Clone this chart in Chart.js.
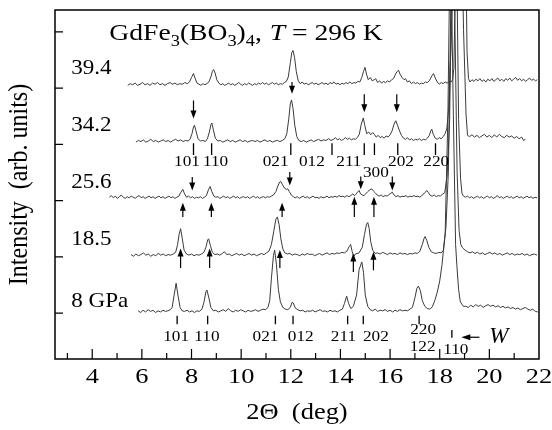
<!DOCTYPE html>
<html>
<head>
<meta charset="utf-8">
<script src="https://cdn.jsdelivr.net/npm/chart.js@4"></script>
<style>
html, body { margin: 0; padding: 0; background: #fff; }
#wrap { width: 552px; height: 430px; }
.preload { position: absolute; left: -9999px; font-family: "Liberation Serif"; }
</style>
</head>
<body>
<span class="preload">GdFe 296 K <i>T W</i></span>
<div id="wrap"><canvas id="grafico"></canvas></div>
<script>
// pressure labels, bottom to top, and vertical offset of each pattern
const pressures = ["8 GPa", "18.5", "25.6", "34.2", "39.4"];
const offsets = [0.02, 1.02, 2.04, 3.04, 4.05];

// [2Theta, intensity]
const p8 = [[5.85,0.02],[5.95,-0.01],[6.05,0.03],[6.15,0.0],[6.25,0.04],[6.35,0.01],[6.45,0.03],[6.55,-0.01],[6.65,0.02],[6.75,0.0],[6.85,0.03],[6.95,0.01],[7.05,0.02],[7.15,0.04],
  [7.22,0.08],[7.3,0.3],[7.38,0.51],[7.46,0.28],[7.54,0.08],[7.62,0.02],
  [7.72,0.01],[7.82,0.03],[7.92,0.0],[8.02,0.02],[8.12,-0.01],[8.22,0.02],[8.32,0.01],[8.42,0.05],
  [8.5,0.17],[8.58,0.36],[8.62,0.39],[8.7,0.25],[8.78,0.08],[8.88,0.02],
  [8.98,0.03],[9.08,0.0],[9.18,0.02],[9.28,0.04],[9.38,0.01],[9.48,0.06],[9.58,0.02],[9.68,0.0],[9.78,0.03],[9.88,0.01],[9.98,0.04],[10.08,0.02],[10.18,0.0],[10.28,0.03],[10.38,0.01],[10.48,0.02],[10.58,0.04],[10.68,0.01],[10.78,0.03],[10.88,0.05],[10.98,0.04],[11.08,0.08],
  [11.15,0.2],[11.22,0.6],[11.3,1.0],[11.35,1.1],[11.42,0.85],[11.5,0.4],[11.58,0.18],[11.68,0.08],[11.78,0.05],[11.88,0.04],
  [11.98,0.08],[12.05,0.17],[12.1,0.16],[12.18,0.07],[12.28,0.04],
  [12.38,0.02],[12.48,0.03],[12.58,0.0],[12.68,0.02],[12.78,0.01],[12.88,0.03],[12.98,0.0],[13.08,0.02],[13.18,0.04],[13.28,0.01],[13.38,0.02],[13.48,0.0],[13.58,0.03],[13.68,0.01],[13.78,0.02],[13.88,0.0],[13.98,0.03],[14.08,0.05],
  [14.16,0.15],[14.25,0.28],[14.33,0.15],[14.42,0.06],[14.52,0.1],
  [14.65,0.3],[14.75,0.75],[14.86,0.89],[14.93,0.7],[15.0,0.3],[15.1,0.1],[15.2,0.04],
  [15.3,0.02],[15.4,0.05],[15.5,0.01],[15.6,0.03],[15.7,0.02],[15.8,0.04],[15.9,0.01],[16.0,0.03],[16.1,0.0],[16.2,0.03],[16.3,0.01],[16.4,0.04],[16.5,0.02],[16.6,0.03],[16.7,0.02],[16.8,0.05],[16.9,0.08],
  [17.0,0.25],[17.08,0.42],[17.14,0.46],[17.22,0.38],[17.3,0.2],[17.4,0.1],[17.5,0.06],[17.6,0.05],[17.7,0.09],[17.8,0.2],
  [17.9,0.35],[18.0,0.55],[18.09,0.83],[18.22,1.4],[18.33,3.5],[18.43,7],[18.55,3.5],[18.64,1.2],[18.69,0.83],[18.76,0.4],[18.83,0.18],[18.95,0.1],
  [19.05,0.1],[19.15,0.08],[19.25,0.12],[19.35,0.09],[19.45,0.13],[19.55,0.1],[19.65,0.12],[19.75,0.08],[19.85,0.11],[19.95,0.13],[20.05,0.1],[20.15,0.12],[20.25,0.09],[20.35,0.11],[20.45,0.08],[20.55,0.1],[20.65,0.07],[20.75,0.09],[20.85,0.06],[20.95,0.08],[21.05,0.05],[21.15,0.07],[21.25,0.04],[21.35,0.06],[21.45,0.08],[21.55,0.05],[21.65,0.03],[21.75,0.05],[21.85,0.01],[21.95,0.0]];

const p185 = [[5.56,0.02],[5.66,-0.01],[5.76,0.03],[5.86,0.0],[5.96,0.02],[6.06,0.05],[6.16,0.01],[6.26,0.03],[6.36,-0.01],[6.46,0.02],[6.56,0.0],[6.66,0.04],[6.76,0.01],[6.86,0.03],[6.96,0.0],[7.06,0.02],[7.16,0.01],[7.26,0.03],[7.36,0.06],
  [7.44,0.2],[7.5,0.38],[7.56,0.48],[7.63,0.3],[7.7,0.1],[7.8,0.03],
  [7.9,0.01],[8.0,0.03],[8.1,0.0],[8.2,0.02],[8.3,0.01],[8.4,0.03],[8.5,0.06],
  [8.58,0.15],[8.65,0.28],[8.69,0.3],[8.76,0.18],[8.84,0.06],[8.94,0.02],
  [9.04,0.03],[9.14,0.01],[9.24,0.04],[9.33,0.07],[9.42,0.02],[9.52,0.03],[9.62,0.0],[9.72,0.02],[9.82,0.04],[9.92,0.01],[10.02,0.03],[10.12,0.0],[10.22,0.02],[10.32,0.04],[10.42,0.01],[10.52,0.03],[10.62,0.0],[10.72,0.02],[10.82,0.04],[10.92,0.02],[11.02,0.05],[11.12,0.08],
  [11.22,0.2],[11.32,0.45],[11.4,0.65],[11.46,0.69],[11.53,0.55],[11.6,0.3],[11.68,0.12],[11.76,0.05],
  [11.86,0.03],[11.96,0.04],[12.06,0.01],[12.16,0.03],[12.26,0.02],[12.36,0.0],[12.46,0.03],[12.56,0.01],[12.66,0.04],[12.76,0.02],[12.86,0.03],[12.96,0.0],[13.06,0.02],[13.16,0.04],[13.26,0.01],[13.36,0.03],[13.46,0.05],[13.56,0.02],[13.66,0.04],[13.76,0.03],[13.86,0.05],[13.96,0.04],[14.06,0.06],[14.16,0.05],[14.26,0.08],
  [14.35,0.16],[14.41,0.2],[14.47,0.08],[14.53,-0.02],[14.6,0.03],
  [14.75,0.05],[14.88,0.15],[14.97,0.38],[15.05,0.56],[15.1,0.59],[15.16,0.48],[15.22,0.25],[15.3,0.1],[15.4,0.04],
  [15.5,0.05],[15.6,0.03],[15.7,0.06],[15.8,0.04],[15.9,0.02],[16.0,0.05],[16.1,0.03],[16.2,0.04],[16.3,0.02],[16.4,0.05],[16.5,0.03],[16.6,0.04],[16.7,0.02],[16.8,0.04],[16.9,0.03],[17.0,0.05],[17.1,0.04],[17.2,0.08],
  [17.3,0.2],[17.37,0.31],[17.41,0.34],[17.48,0.27],[17.56,0.15],[17.66,0.07],[17.76,0.05],[17.86,0.04],[17.96,0.06],[18.06,0.05],[18.15,0.1],
  [18.25,0.5],[18.35,1.5],[18.45,4.5],[18.52,7],[18.6,4.5],[18.7,1.5],[18.78,0.45],[18.85,0.2],[18.92,0.14],[19.02,0.1],[19.12,0.07],
  [19.22,0.05],[19.32,0.07],[19.42,0.04],[19.52,0.06],[19.62,0.03],[19.72,0.05],[19.82,0.02],[19.92,0.04],[20.02,0.06],[20.12,0.03],[20.22,0.05],[20.32,0.02],[20.42,0.04],[20.52,0.01],[20.62,0.03],[20.72,0.05],[20.82,0.02],[20.92,0.04],[21.02,0.01],[21.12,0.03],[21.22,0.02],[21.32,0.04],[21.42,0.01],[21.52,0.03],[21.62,0.0],[21.72,0.02],[21.82,0.03],[21.92,0.01]];

const p256 = [[4.69,0.02],[4.77,0.05],[4.85,0.01],[4.93,0.04],[5.01,0.0],[5.09,0.03],[5.17,0.06],[5.25,0.02],[5.33,0.0],[5.41,0.03],[5.49,0.01],[5.57,0.04],[5.65,0.02],[5.73,0.0],[5.81,0.03],[5.89,0.05],[5.97,0.01],[6.05,0.03],[6.13,0.0],[6.21,0.02],[6.29,0.04],[6.37,0.01],[6.45,0.03],[6.53,0.0],[6.61,0.02],[6.69,0.04],[6.77,0.01],[6.85,0.03],[6.93,0.0],[7.01,0.02],[7.09,0.04],[7.17,0.01],[7.25,0.03],[7.33,0.0],[7.41,0.02],[7.49,0.04],
  [7.56,0.1],[7.65,0.16],[7.72,0.08],[7.8,0.02],[7.88,0.04],[7.96,0.01],[8.04,0.03],[8.12,0.0],[8.2,0.02],[8.28,0.01],[8.36,0.03],[8.44,0.0],[8.52,0.02],[8.6,0.05],
  [8.68,0.15],[8.75,0.21],[8.82,0.12],[8.9,0.04],[8.98,0.02],[9.06,0.03],[9.14,0.0],[9.22,0.02],[9.3,0.04],[9.38,0.01],[9.46,0.03],[9.54,0.0],[9.62,0.02],[9.7,0.04],[9.78,0.01],[9.86,0.03],[9.94,0.0],[10.02,0.02],[10.1,0.03],[10.18,0.01],[10.26,0.03],[10.34,0.0],[10.42,0.02],[10.5,0.04],[10.58,0.01],[10.66,0.03],[10.74,0.0],[10.82,0.02],[10.9,0.03],[10.98,0.01],[11.06,0.03],[11.14,0.02],[11.22,0.04],[11.3,0.06],
  [11.4,0.12],[11.48,0.22],[11.55,0.29],[11.6,0.3],[11.67,0.24],[11.75,0.18],[11.82,0.16],[11.88,0.17],[11.94,0.12],[12.02,0.06],[12.1,0.03],
  [12.18,0.01],[12.26,0.03],[12.34,0.0],[12.42,0.02],[12.5,0.04],[12.58,0.01],[12.66,0.03],[12.74,0.0],[12.82,0.02],[12.9,0.04],[12.98,0.01],[13.06,0.02],[13.14,0.0],[13.22,0.03],[13.3,0.01],[13.38,0.02],[13.46,0.04],[13.54,0.01],[13.62,0.03],[13.7,0.02],[13.78,0.04],[13.86,0.02],[13.94,0.05],[14.02,0.03],[14.1,0.04],[14.18,0.02],[14.26,0.05],[14.34,0.03],
  [14.42,0.05],[14.5,0.08],[14.56,0.05],[14.62,0.07],[14.69,0.11],[14.75,0.14],[14.81,0.08],[14.88,0.06],[14.95,0.05],[15.02,0.08],[15.1,0.12],[15.18,0.15],[15.26,0.17],[15.33,0.13],[15.4,0.1],[15.48,0.06],[15.56,0.04],[15.64,0.06],[15.72,0.03],[15.8,0.05],[15.88,0.04],[15.96,0.07],[16.03,0.09],[16.09,0.11],[16.16,0.06],[16.24,0.03],[16.32,0.05],[16.4,0.02],[16.48,0.04],[16.56,0.03],[16.64,0.05],[16.72,0.02],[16.8,0.04],[16.88,0.03],[16.96,0.05],[17.04,0.03],[17.12,0.04],[17.2,0.02],[17.28,0.05],[17.36,0.08],
  [17.42,0.11],[17.48,0.14],[17.55,0.1],[17.62,0.05],[17.7,0.04],[17.78,0.06],[17.86,0.03],[17.94,0.05],[18.02,0.04],[18.1,0.07],[18.2,0.1],
  [18.3,0.4],[18.4,1.4],[18.5,4.5],[18.6,7],[18.68,4.5],[18.76,1.4],[18.84,0.35],[18.9,0.08],[18.96,0.04],
  [19.04,0.02],[19.12,0.04],[19.2,0.01],[19.28,0.03],[19.36,0.0],[19.44,0.02],[19.52,0.04],[19.6,0.01],[19.68,0.03],[19.76,0.0],[19.84,0.02],[19.92,0.04],[20.0,0.01],[20.08,0.03],[20.16,0.0],[20.24,0.02],[20.32,0.05],[20.4,0.01],[20.48,0.03],[20.56,0.0],[20.64,0.02],[20.72,0.04],[20.8,0.01],[20.88,0.03],[20.96,0.0],[21.04,0.02],[21.12,0.04],[21.2,0.01],[21.28,0.03],[21.36,0.0],[21.44,0.02],[21.52,0.04],[21.6,0.01],[21.68,0.03],[21.76,0.0],[21.84,0.02],[21.92,0.01]];

const p342 = [[5.76,0.0],[5.86,0.03],[5.96,0.01],[6.06,0.04],[6.16,0.0],[6.26,0.02],[6.36,0.05],[6.46,0.01],[6.56,0.03],[6.66,0.0],[6.76,0.02],[6.86,0.04],[6.96,0.01],[7.06,0.03],[7.16,0.0],[7.26,0.03],[7.36,0.05],[7.46,0.02],[7.56,0.04],[7.66,0.01],[7.76,0.03],[7.86,0.02],[7.94,0.05],
  [8.02,0.15],[8.08,0.27],[8.12,0.3],[8.18,0.2],[8.26,0.06],[8.36,0.02],[8.46,0.03],[8.56,0.01],[8.64,0.06],
  [8.72,0.18],[8.78,0.31],[8.82,0.34],[8.88,0.22],[8.96,0.07],[9.06,0.02],
  [9.16,0.03],[9.26,0.0],[9.36,0.02],[9.46,0.04],[9.56,0.01],[9.66,0.03],[9.76,0.0],[9.86,0.02],[9.96,0.04],[10.06,0.01],[10.16,0.03],[10.26,0.0],[10.36,0.02],[10.46,0.03],[10.56,0.01],[10.66,0.03],[10.76,0.0],[10.86,0.02],[10.96,0.04],[11.06,0.01],[11.16,0.03],[11.26,0.0],[11.36,0.02],[11.46,0.03],[11.56,0.01],[11.66,0.03],[11.76,0.06],
  [11.84,0.15],[11.92,0.42],[11.98,0.68],[12.03,0.75],[12.09,0.6],[12.16,0.3],[12.24,0.1],[12.32,0.03],
  [12.42,0.01],[12.52,0.03],[12.62,0.0],[12.72,0.02],[12.82,0.04],[12.92,0.01],[13.02,0.03],[13.12,0.05],[13.22,0.02],[13.32,0.04],[13.42,0.03],[13.52,0.06],[13.62,0.03],[13.72,0.05],[13.8,0.08],[13.88,0.04],[13.96,0.06],[14.04,0.03],[14.12,0.05],[14.2,0.08],[14.28,0.05],[14.36,0.07],[14.44,0.04],[14.52,0.06],[14.6,0.05],[14.68,0.08],[14.76,0.14],
  [14.84,0.32],[14.92,0.43],[14.98,0.3],[15.06,0.15],[15.14,0.18],[15.22,0.13],[15.3,0.17],[15.36,0.14],[15.44,0.09],[15.52,0.12],[15.6,0.08],[15.68,0.1],[15.76,0.07],[15.84,0.11],[15.92,0.09],[16.0,0.13],[16.08,0.2],
  [16.16,0.32],[16.23,0.38],[16.3,0.3],[16.38,0.2],[16.46,0.12],[16.54,0.07],[16.62,0.05],[16.7,0.08],[16.78,0.04],[16.86,0.06],[16.94,0.03],[17.02,0.05],[17.1,0.04],[17.18,0.06],[17.26,0.03],[17.34,0.05],[17.42,0.04],[17.5,0.07],[17.58,0.12],
  [17.64,0.2],[17.68,0.23],[17.74,0.14],[17.82,0.07],[17.9,0.05],[17.98,0.08],[18.06,0.06],[18.14,0.1],[18.22,0.15],[18.29,0.25],
  [18.36,0.6],[18.48,2],[18.62,5],[18.72,7],[18.82,5],[18.96,2],[19.06,0.5],[19.12,0.12],
  [19.2,0.1],[19.3,0.13],[19.4,0.09],[19.5,0.12],[19.6,0.08],[19.7,0.11],[19.8,0.14],[19.9,0.09],[20.0,0.12],[20.1,0.08],[20.2,0.13],[20.3,0.09],[20.4,0.14],[20.5,0.1],[20.6,0.08],[20.7,0.12],[20.8,0.09],[20.9,0.11],[21.0,0.07],[21.1,0.1],[21.2,0.06],[21.3,0.09],[21.38,0.03],[21.45,0.05]];

const p394 = [[5.43,0.0],[5.53,0.03],[5.63,0.01],[5.73,0.04],[5.83,0.0],[5.93,0.02],[6.03,0.05],[6.13,0.01],[6.23,0.03],[6.33,0.0],[6.43,0.04],[6.53,0.02],[6.63,0.05],[6.73,0.01],[6.83,0.03],[6.93,0.0],[7.03,0.03],[7.13,0.05],[7.23,0.02],[7.33,0.04],[7.43,0.01],[7.53,0.03],[7.63,0.02],[7.73,0.05],[7.83,0.03],[7.92,0.06],
  [8.0,0.14],[8.08,0.21],[8.14,0.13],[8.22,0.04],[8.3,0.02],[8.38,0.0],[8.46,0.03],[8.54,0.01],[8.62,0.03],[8.7,0.06],
  [8.78,0.15],[8.84,0.25],[8.89,0.28],[8.95,0.22],[9.02,0.1],[9.1,0.04],[9.18,0.01],[9.26,0.03],[9.34,0.0],[9.42,0.02],[9.5,0.04],[9.58,0.01],[9.66,0.03],[9.74,0.0],[9.82,0.02],[9.9,0.05],[9.98,0.02],[10.06,0.0],[10.14,0.03],[10.22,0.01],[10.3,0.04],[10.38,0.02],[10.46,0.0],[10.54,0.03],[10.62,0.01],[10.7,0.04],[10.78,0.02],[10.86,0.05],[10.94,0.02],[11.02,0.04],[11.1,0.01],[11.18,0.03],[11.26,0.05],[11.34,0.02],[11.42,0.04],[11.5,0.01],[11.58,0.03],[11.66,0.02],[11.74,0.05],[11.82,0.07],
  [11.9,0.15],[11.98,0.4],[12.04,0.58],[12.09,0.62],[12.15,0.5],[12.22,0.25],[12.3,0.08],[12.38,0.03],[12.46,0.06],[12.54,0.02],[12.62,0.04],[12.7,0.01],[12.78,0.03],[12.86,0.05],[12.94,0.02],[13.02,0.04],[13.1,0.01],[13.18,0.03],[13.26,0.05],[13.34,0.02],[13.42,0.04],[13.5,0.01],[13.58,0.05],[13.66,0.03],[13.74,0.06],[13.82,0.02],[13.9,0.04],[13.98,0.01],[14.06,0.04],[14.14,0.02],[14.22,0.05],[14.3,0.03],[14.38,0.06],[14.46,0.03],[14.54,0.05],[14.62,0.04],[14.7,0.07],[14.78,0.06],[14.86,0.14],
  [14.93,0.25],[14.99,0.32],[15.05,0.2],[15.12,0.1],[15.2,0.14],[15.28,0.08],[15.36,0.1],[15.42,0.12],[15.5,0.05],[15.58,0.08],[15.66,0.04],[15.74,0.07],[15.82,0.05],[15.9,0.08],[15.98,0.06],[16.06,0.1],[16.14,0.12],[16.22,0.2],
  [16.28,0.24],[16.34,0.27],[16.4,0.2],[16.48,0.14],[16.56,0.1],[16.62,0.12],[16.7,0.06],[16.78,0.08],[16.86,0.03],[16.94,0.06],[17.02,0.03],[17.1,0.05],[17.18,0.02],[17.26,0.04],[17.34,0.03],[17.42,0.06],[17.5,0.05],[17.58,0.08],[17.64,0.13],
  [17.7,0.18],[17.75,0.21],[17.82,0.13],[17.9,0.06],[17.98,0.02],[18.06,0.05],[18.14,0.03],[18.22,0.06],[18.3,0.04],[18.38,0.07],[18.46,0.06],[18.52,0.1],
  [18.57,0.3],[18.62,1.5],[18.68,4],[18.77,7],[18.9,7],[18.98,5],[19.05,2.5],[19.1,0.6],[19.16,0.12],
  [19.22,0.06],[19.3,0.1],[19.38,0.07],[19.46,0.11],[19.54,0.08],[19.62,0.12],[19.7,0.07],[19.78,0.1],[19.86,0.06],[19.94,0.11],[20.02,0.08],[20.1,0.12],[20.18,0.07],[20.26,0.1],[20.34,0.13],[20.42,0.08],[20.5,0.11],[20.58,0.07],[20.66,0.12],[20.74,0.09],[20.82,0.13],[20.9,0.08],[20.98,0.11],[21.06,0.14],[21.14,0.09],[21.22,0.12],[21.3,0.08],[21.38,0.11],[21.46,0.07],[21.54,0.1],[21.62,0.13],[21.7,0.09],[21.78,0.11],[21.86,0.08],[21.93,0.1]];

const series = [p8, p185, p256, p342, p394];

// x tick labels
const xLabels = [4, 6, 8, 10, 12, 14, 16, 18, 20, 22];

// reflection marks and labels (2Theta, vertical position in axis units)
const hklMid = ["101", "110", "021", "012", "211", "300", "202", "220"];
const hklMidX = [7.82, 8.97, 11.39, 12.85, 14.34, 15.43, 16.44, 17.86];
const hklMidY = [2.68, 2.68, 2.68, 2.68, 2.68, 2.49, 2.68, 2.68];
const markMid = [8.08, 8.81, 12.0, 13.66, 14.96, 15.37, 16.31, 17.83];

const hklLow = ["101", "110", "021", "012", "211", "202", "220", "122", "110"];
const hklLowX = [7.38, 8.62, 10.98, 12.4, 14.12, 15.43, 17.33, 17.31, 18.65];
const hklLowY = [-0.43, -0.43, -0.43, -0.43, -0.43, -0.43, -0.3, -0.6, -0.66];
const markLow = [7.42, 8.65, 11.38, 12.09, 14.29, 14.92, 17.17];

// arrows: [2Theta, tail, head]
const downArrows = [[8.08,3.78,3.46],[12.05,4.11,3.9],[14.96,3.89,3.57],[16.27,3.89,3.57],
  [8.03,2.42,2.18],[11.96,2.51,2.27],[14.82,2.43,2.2],[16.09,2.43,2.18]];
const upArrows = [[7.65,1.71,1.96],[8.8,1.71,1.96],[11.65,1.71,1.96],[14.56,1.71,2.07],[15.35,1.71,2.07],
  [7.56,0.8,1.15],[8.73,0.8,1.15],[11.56,0.8,1.12],[14.52,0.73,1.06],[15.33,0.76,1.09]];

const labelY = [0.2, 1.3, 2.33, 3.34, 4.35];

const SERIF = "'Liberation Serif', 'Times New Roman', Times, serif";

function texto(ctx, s, x, y, size, opt) {
    opt = opt || {};
    ctx.save();
    ctx.font = (opt.italic ? "italic " : "") + size + "px " + SERIF;
    ctx.textAlign = opt.align || "center";
    ctx.textBaseline = opt.base || "middle";
    ctx.fillStyle = "#000";
    ctx.translate(x, y);
    if (opt.rot) ctx.rotate(opt.rot);
    ctx.scale(opt.sx || 1, opt.sy || 1);
    ctx.fillText(s, 0, 0);
    const w = ctx.measureText(s).width * (opt.sx || 1);
    ctx.restore();
    return w;
}

function seta(ctx, x, y0, y1) {
    const dir = y1 > y0 ? 1 : -1;
    ctx.beginPath();
    ctx.moveTo(x, y0);
    ctx.lineTo(x, y1 - dir * 6);
    ctx.stroke();
    ctx.beginPath();
    ctx.moveTo(x, y1);
    ctx.lineTo(x - 3, y1 - dir * 8);
    ctx.lineTo(x + 3, y1 - dir * 8);
    ctx.closePath();
    ctx.fill();
}

const decoracao = {
    id: "decoracao",
    afterDraw(chart) {
        const ctx = chart.ctx;
        const xs = chart.scales.x;
        const ys = chart.scales.y;
        const a = chart.chartArea;
        const X = v => xs.getPixelForValue(v);
        const Y = v => ys.getPixelForValue(v);

        ctx.save();
        ctx.strokeStyle = "#000";
        ctx.fillStyle = "#000";

        // frame
        ctx.lineWidth = 1.5;
        ctx.strokeRect(a.left, a.top, a.right - a.left, a.bottom - a.top);

        // inward ticks
        ctx.lineWidth = 1.2;
        ctx.beginPath();
        for (let v = Math.ceil(xs.min); v < xs.max; v++) {
            const len = v % 2 === 0 ? 10 : 6;
            ctx.moveTo(X(v), a.bottom);
            ctx.lineTo(X(v), a.bottom - len);
        }
        for (let v = Math.ceil(ys.min); v <= Math.floor(ys.max); v++) {
            ctx.moveTo(a.left, Y(v));
            ctx.lineTo(a.left + 8, Y(v));
        }
        ctx.stroke();

        // tick labels and axis titles
        xLabels.forEach(v => texto(ctx, String(v), X(v), a.bottom + 18, 22, { sx: 1.2 }));
        texto(ctx, "2\u0398  (deg)", (a.left + a.right) / 2, 413, 23, { sx: 1.15 });
        texto(ctx, "Intensity  (arb. units)", 20, (a.top + a.bottom) / 2, 24, { rot: -Math.PI / 2, sy: 1.12 });

        // pressure labels
        pressures.forEach((p, i) => texto(ctx, p, X(3.15), Y(labelY[i]), 21, { align: "left", sx: 1.1 }));

        // title
        let tx = X(4.69);
        const ty = Y(4.85);
        const parts = [["GdFe", 0], ["3", 1], ["(BO", 0], ["3", 1], [")", 0], ["4", 1], [",", 0]];
        parts.forEach(([s, sub]) => {
            tx += texto(ctx, s, tx, sub ? ty + 6 : ty, sub ? 16 : 24, { align: "left", base: "alphabetic", sx: 1.15 });
        });
        tx = X(11.15);
        tx += texto(ctx, "T", tx, ty, 24, { align: "left", base: "alphabetic", italic: true, sx: 1.15 });
        texto(ctx, " = 296 K", tx, ty, 24, { align: "left", base: "alphabetic", sx: 1.15 });

        // reflection marks
        ctx.lineWidth = 1.3;
        ctx.beginPath();
        markMid.forEach(v => { ctx.moveTo(X(v), Y(3.02)); ctx.lineTo(X(v), Y(2.81)); });
        markLow.forEach(v => { ctx.moveTo(X(v), Y(-0.05)); ctx.lineTo(X(v), Y(-0.2)); });
        ctx.moveTo(X(18.49), Y(-0.3)); ctx.lineTo(X(18.49), Y(-0.44));
        ctx.stroke();
        hklMid.forEach((s, i) => texto(ctx, s, X(hklMidX[i]), Y(hklMidY[i]), 15, { sx: 1.15 }));
        hklLow.forEach((s, i) => texto(ctx, s, X(hklLowX[i]), Y(hklLowY[i]), 15, { sx: 1.15 }));

        // arrows
        ctx.lineWidth = 1.2;
        downArrows.concat(upArrows).forEach(([x, t, h]) => seta(ctx, X(x), Y(t), Y(h)));

        // W marker
        const wy = Y(-0.43);
        ctx.beginPath();
        ctx.moveTo(X(19.6), wy);
        ctx.lineTo(X(18.87) + 6, wy);
        ctx.stroke();
        ctx.beginPath();
        ctx.moveTo(X(18.87), wy);
        ctx.lineTo(X(18.87) + 9, wy - 3);
        ctx.lineTo(X(18.87) + 9, wy + 3);
        ctx.closePath();
        ctx.fill();
        texto(ctx, "W", X(20.0), wy, 23, { align: "left", italic: true });

        ctx.restore();
    }
};

function desenhar() {
    new Chart(document.getElementById("grafico"), {
        type: "line",
        data: {
            datasets: series.map((s, i) => ({
                label: pressures[i],
                data: s.map(p => ({ x: p[0], y: p[1] + offsets[i] })),
                borderColor: "#3a3a3a",
                borderWidth: 1,
                pointRadius: 0,
                tension: 0,
                fill: false
            }))
        },
        options: {
            responsive: true,
            maintainAspectRatio: false,
            animation: false,
            devicePixelRatio: 1,
            layout: { padding: { top: 10, right: 13, bottom: 0, left: 0 } },
            scales: {
                x: {
                    type: "linear",
                    min: 2.5,
                    max: 22,
                    ticks: { display: false, stepSize: 1 },
                    grid: { display: false, drawTicks: false },
                    border: { display: false },
                    afterFit: s => { s.height = 71; }
                },
                y: {
                    type: "linear",
                    min: -0.817,
                    max: 5.39,
                    ticks: { display: false, stepSize: 1 },
                    grid: { display: false, drawTicks: false },
                    border: { display: false },
                    afterFit: s => { s.width = 55; }
                }
            },
            plugins: {
                legend: { display: false },
                tooltip: { enabled: false }
            }
        },
        plugins: [decoracao]
    });
}

Promise.all([
    document.fonts.load("24px 'Liberation Serif'"),
    document.fonts.load("italic 24px 'Liberation Serif'")
]).then(desenhar, desenhar);
</script>
</body>
</html>
